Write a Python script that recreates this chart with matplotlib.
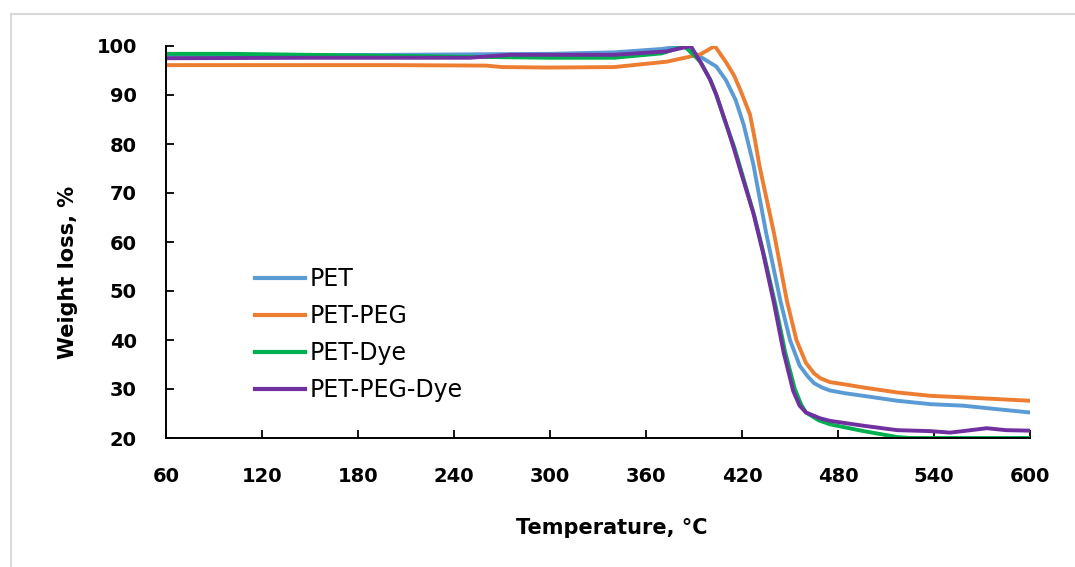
import matplotlib
matplotlib.use("Agg")
import matplotlib.pyplot as plt
from matplotlib.lines import Line2D

# TGA curves (temperature in degC, weight in %)
pet_temp = [60, 100, 150, 200, 250, 300, 340, 370, 383, 394, 404, 410, 416, 421, 427,
            435, 444, 450, 456, 461, 465, 470, 475, 485, 496, 517, 538, 558, 579, 600]
pet_wt = [98.0, 98.1, 98.1, 98.2, 98.3, 98.4, 98.7, 99.4, 100.0, 97.8, 95.8, 93.0,
          89.0, 84.0, 76.0, 62.0, 48.0, 40.0, 34.8, 32.6, 31.2, 30.3, 29.7, 29.1,
          28.6, 27.6, 26.9, 26.6, 25.9, 25.2]

peg_temp = [60, 150, 200, 260, 270, 300, 340, 373, 394, 403, 410, 415, 419, 425,
            428, 431, 440, 448, 454, 460, 465, 469, 475, 485, 496, 517, 538, 558, 600]
peg_wt = [96.1, 96.1, 96.1, 96.0, 95.7, 95.6, 95.7, 96.8, 98.3, 100.0, 96.7, 94.0,
          91.0, 86.0, 81.0, 75.4, 61.8, 48.1, 40.0, 35.3, 33.2, 32.2, 31.4, 30.9,
          30.3, 29.3, 28.6, 28.3, 27.6]

dye_temp = [60, 100, 150, 200, 250, 300, 340, 370, 384, 394, 400, 404, 409, 415,
            420, 428, 434, 441, 447, 453, 457, 460, 468, 475, 496, 517, 525, 600]
dye_wt = [98.4, 98.4, 98.2, 98.0, 97.8, 97.6, 97.6, 98.5, 100.0, 96.8, 93.2, 90.0,
          85.0, 79.5, 74.0, 65.0, 57.0, 47.0, 37.5, 30.0, 26.8, 25.2, 23.6, 22.8,
          21.4, 20.2, 20.0, 20.0]

pegdye_temp = [60, 150, 250, 262, 275, 300, 340, 373, 388, 394, 400, 404, 410, 415,
               420, 427, 433, 440, 446, 452, 456, 460, 469, 475, 496, 517, 538, 550,
               558, 573, 585, 600]
pegdye_wt = [97.5, 97.6, 97.6, 97.9, 98.2, 98.2, 98.2, 98.9, 100.0, 96.7, 93.2, 90.0,
             84.2, 79.0, 73.5, 66.0, 58.0, 47.5, 37.5, 29.6, 26.6, 25.2, 24.0, 23.5,
             22.5, 21.6, 21.4, 21.1, 21.4, 22.0, 21.6, 21.5]

series_names = ["PET", "PET-PEG", "PET-Dye", "PET-PEG-Dye"]
series_colors = ["#5B9BD5", "#ED7D31", "#00B050", "#7030A0"]

x_ticks = [60, 120, 180, 240, 300, 360, 420, 480, 540, 600]
y_ticks = [20, 30, 40, 50, 60, 70, 80, 90, 100]

fig = plt.figure(figsize=(10.75, 5.67), dpi=100)
ax = fig.add_axes([166 / 1075, 1 - 438 / 567, 864 / 1075, 392 / 567])

curves = [(pet_temp, pet_wt), (peg_temp, peg_wt), (dye_temp, dye_wt),
          (pegdye_temp, pegdye_wt)]
for (t, w), name, color in zip(curves, series_names, series_colors):
    ax.plot(t, w, color=color, lw=2.8, label=name, solid_joinstyle="round")

ax.set_xlim(60, 600)
ax.set_ylim(20, 100)
ax.set_xticks(x_ticks)
ax.set_yticks(y_ticks)

for side in ["top", "right"]:
    ax.spines[side].set_visible(False)
for side in ["left", "bottom"]:
    ax.spines[side].set_linewidth(1.4)

ax.tick_params(axis="both", direction="in", length=6, width=1.3, labelsize=14)
ax.tick_params(axis="y", pad=21)
ax.tick_params(axis="x", pad=21)
for lbl in ax.get_xticklabels() + ax.get_yticklabels():
    lbl.set_fontweight("bold")

ax.set_xlabel("Temperature, °C", fontsize=15, fontweight="bold")
ax.set_ylabel("Weight loss, %", fontsize=15, fontweight="bold")
ax.xaxis.set_label_coords(0.516, -0.205)
ax.yaxis.set_label_coords(-0.102, 0.423)

leg = ax.legend(loc="upper left", bbox_to_anchor=(255 / 1075, 1 - 267 / 567),
                bbox_transform=fig.transFigure, frameon=False, fontsize=17,
                handlelength=2.12, handletextpad=0.21, labelspacing=0.55,
                borderpad=0, borderaxespad=0)
for h in leg.get_lines():
    h.set_linewidth(3)

# light grey chart-area border (top and left edges visible)
fig.add_artist(Line2D([10.5 / 1075, 1], [1 - 13.5 / 567] * 2,
                      transform=fig.transFigure, color="#D9D9D9", lw=1.5))
fig.add_artist(Line2D([10.5 / 1075] * 2, [0, 1 - 13.5 / 567],
                      transform=fig.transFigure, color="#D9D9D9", lw=1.5))

fig.savefig("out.png", dpi=100)
